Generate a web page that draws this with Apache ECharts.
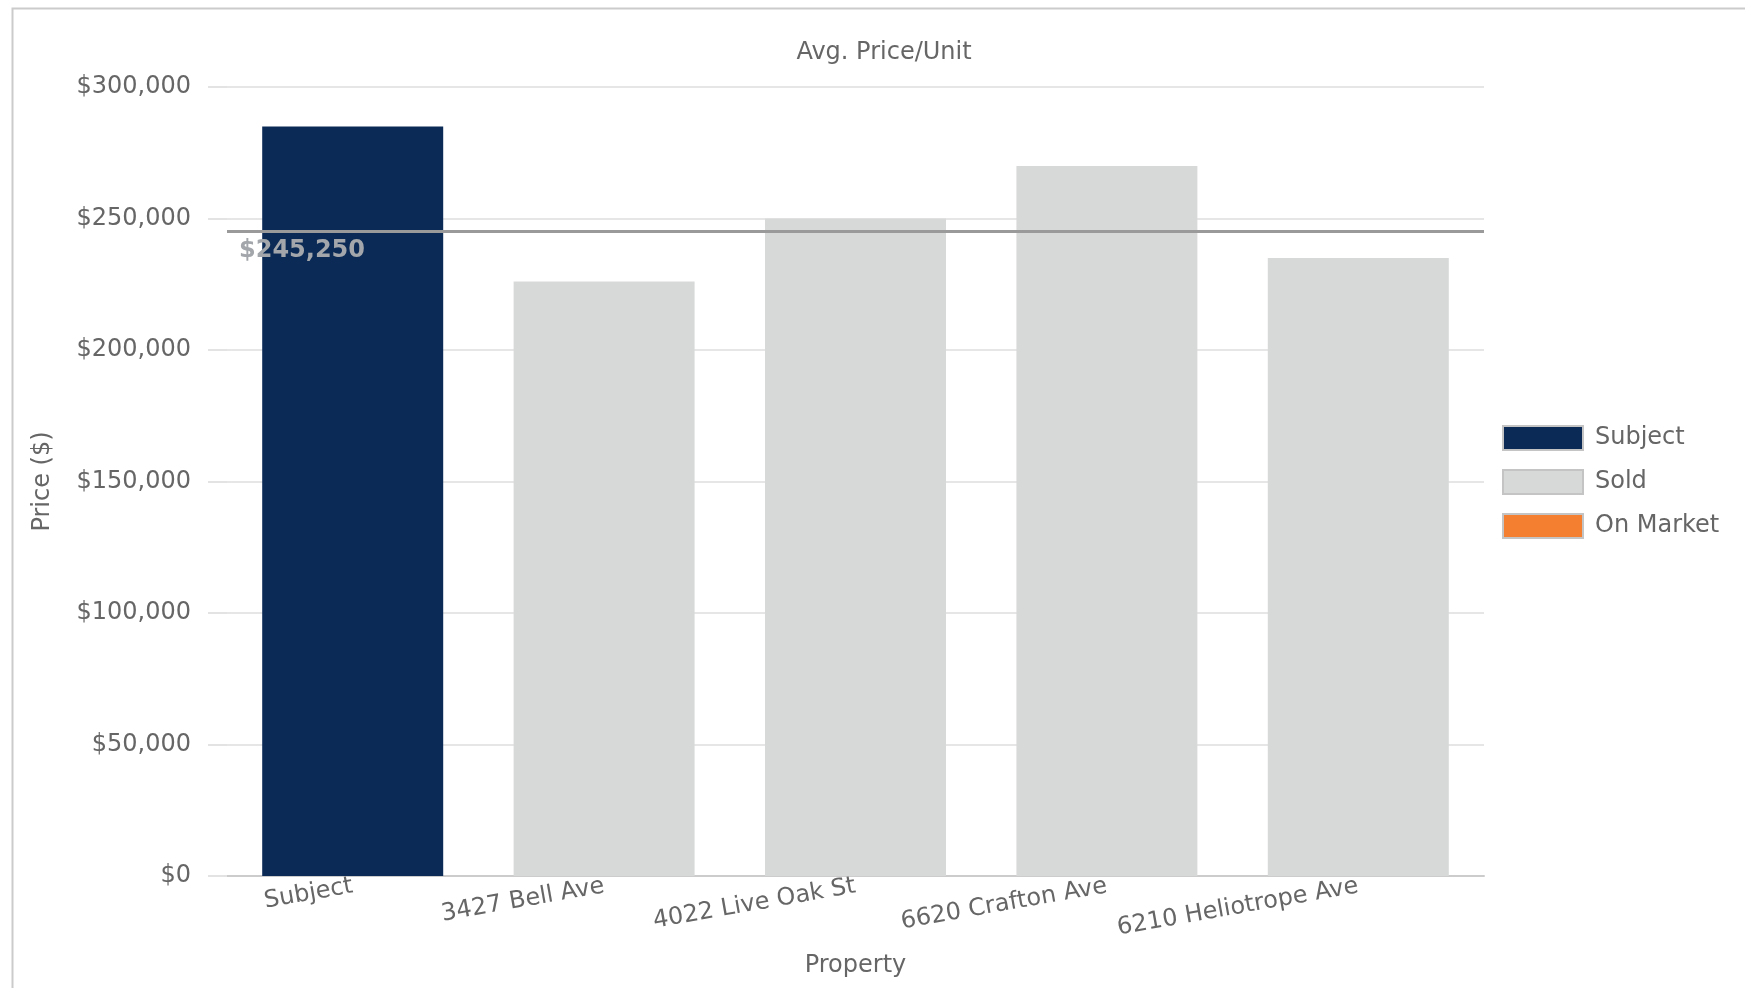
<!DOCTYPE html>
<html>
<head>
<meta charset="utf-8">
<title>Avg. Price/Unit</title>
<script src="https://cdn.jsdelivr.net/npm/echarts@6/dist/echarts.min.js"></script>
<style>
  html, body { margin: 0; padding: 0; background: #ffffff; }
  #chart { width: 1745px; height: 988px; }
</style>
</head>
<body>
<div id="chart"></div>
<script>
// Properties on the x axis
const categories = ['Subject', '3427 Bell Ave', '4022 Live Oak St', '6620 Crafton Ave', '6210 Heliotrope Ave'];
// Average price per unit for each property, split by status
const subjectValues = [285000, null, null, null, null];
const soldValues = [null, 226000, 250000, 270000, 235000];
const onMarketValues = [null, null, null, null, null];
// Average of the sold comparables
const soldAverage = 245250;
// Value axis ticks
const yTicks = [0, 50000, 100000, 150000, 200000, 250000, 300000];

const FONT = 'DejaVu Sans';
const FS = 24;
const money = v => '$' + Math.round(v).toLocaleString('en-US');

const chart = echarts.init(document.getElementById('chart'), null, { renderer: 'canvas' });

chart.setOption({
  animation: false,
  backgroundColor: '#ffffff',
  textStyle: { fontFamily: FONT },
  graphic: [{
    type: 'rect',
    left: 10, top: 6,
    shape: { width: 1800, height: 1100 },
    style: { fill: 'none', stroke: '#cbcbcb', lineWidth: 2 },
    silent: true
  }],
  title: {
    text: 'Avg. Price/Unit',
    left: 879, top: 48, textAlign: 'center', textVerticalAlign: 'middle',
    textStyle: { fontFamily: FONT, fontSize: FS, fontWeight: 'normal', color: '#666666' }
  },
  legend: {
    orient: 'vertical',
    left: 1497, top: 420,
    itemWidth: 80, itemHeight: 24, itemGap: 18,
    icon: 'rect',
    itemStyle: { borderColor: '#c4c4c4', borderWidth: 2 },
    textStyle: { fontFamily: FONT, fontSize: FS, color: '#666666', padding: [0, 0, 0, 7] },
    data: ['Subject', 'Sold', 'On Market']
  },
  grid: { left: 227, right: 261, top: 87, bottom: 112, containLabel: false },
  xAxis: {
    type: 'category',
    data: categories,
    name: 'Property',
    nameLocation: 'middle',
    nameGap: 78,
    nameTextStyle: { fontFamily: FONT, fontSize: FS, color: '#666666' },
    axisLine: { lineStyle: { color: '#cccccc', width: 2 } },
    axisTick: { show: false },
    axisLabel: { rotate: 10, margin: 10, fontFamily: FONT, fontSize: FS, color: '#666666', interval: 0 }
  },
  yAxis: {
    type: 'value',
    min: yTicks[0], max: yTicks[yTicks.length - 1], interval: yTicks[1] - yTicks[0],
    name: 'Price ($)',
    nameLocation: 'middle',
    nameGap: 172,
    nameRotate: 90,
    nameTextStyle: { fontFamily: FONT, fontSize: FS, color: '#666666' },
    axisLine: { show: false },
    axisTick: { show: true, length: 19, lineStyle: { color: '#e3e3e3', width: 2 } },
    splitLine: { lineStyle: { color: '#e6e6e6', width: 2 } },
    axisLabel: { margin: 36, fontFamily: FONT, fontSize: FS, color: '#666666', formatter: money }
  },
  series: [
    {
      name: 'Subject', type: 'bar', stack: 'all', barWidth: 181,
      data: subjectValues,
      itemStyle: { color: '#0b2a55' }
    },
    {
      name: 'Sold', type: 'bar', stack: 'all', barWidth: 181,
      data: soldValues,
      itemStyle: { color: '#d7d9d8' },
      markLine: {
        silent: true,
        symbol: 'none',
        data: [{ yAxis: soldAverage }],
        lineStyle: { color: '#9a9a9a', width: 3, type: 'solid' },
        label: {
          show: true,
          position: 'insideStartBottom',
          distance: [12, 8],
          formatter: () => money(soldAverage),
          fontFamily: FONT, fontSize: FS, fontWeight: 'bold', color: '#a3a7ab'
        }
      }
    },
    {
      name: 'On Market', type: 'bar', stack: 'all', barWidth: 181,
      data: onMarketValues,
      itemStyle: { color: '#f47f30' }
    }
  ]
});
</script>
</body>
</html>
